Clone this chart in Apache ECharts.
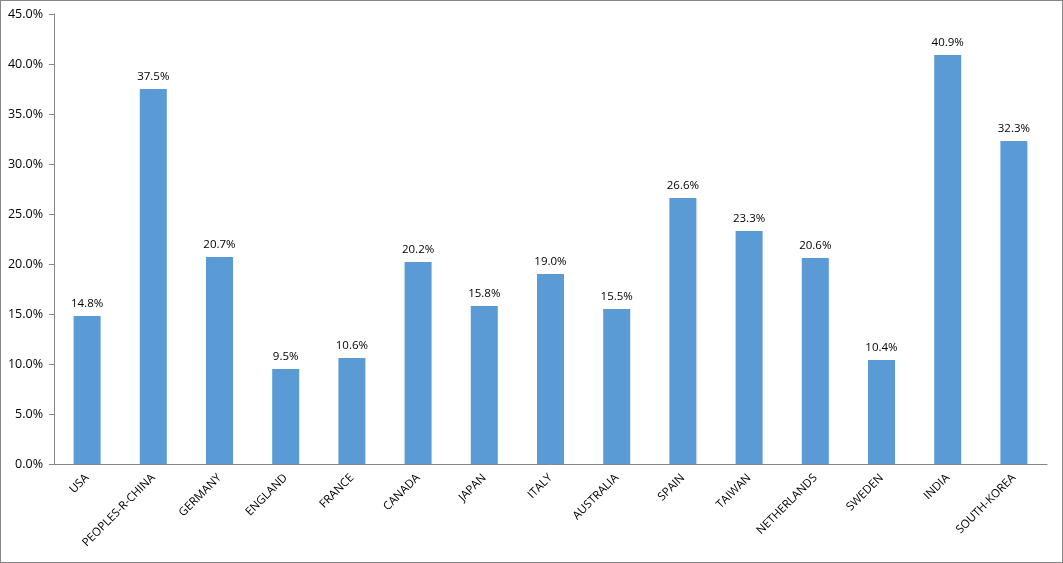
<!DOCTYPE html>
<html><head><meta charset="utf-8">
<script src="https://cdn.jsdelivr.net/npm/echarts@6/dist/echarts.min.js"></script>
<style>html,body{margin:0;padding:0;background:#fff}#c{width:1063px;height:563px;box-sizing:border-box;border:1px solid #868686}</style>
</head><body><div id="c"></div>
<script>
var categories = ["USA","PEOPLES-R-CHINA","GERMANY","ENGLAND","FRANCE","CANADA","JAPAN","ITALY","AUSTRALIA","SPAIN","TAIWAN","NETHERLANDS","SWEDEN","INDIA","SOUTH-KOREA"];
var values = [14.8,37.5,20.7,9.5,10.6,20.2,15.8,19.0,15.5,26.6,23.3,20.6,10.4,40.9,32.3];
var chart = echarts.init(document.getElementById('c'));
chart.setOption({
  animation:false,
  grid:{left:53,right:15,top:13,bottom:98},
  xAxis:{type:'category',data:categories,
    axisLine:{lineStyle:{color:'#868686'}},
    axisTick:{alignWithLabel:false,length:5,lineStyle:{color:'#868686'}},
    axisLabel:{rotate:45,color:'#000',fontSize:11.5,fontFamily:'Open Sans',margin:12,interval:0}},
  yAxis:{type:'value',min:0,max:45,interval:5,
    axisLine:{show:true,lineStyle:{color:'#868686'}},
    axisTick:{show:true,length:5,lineStyle:{color:'#868686'}},
    splitLine:{show:false},
    axisLabel:{color:'#000',fontSize:12.5,fontFamily:'Open Sans',margin:11,formatter:function(v){return v.toFixed(1)+'%';}}},
  series:[{type:'bar',data:values,barWidth:27,itemStyle:{color:'#5b9bd5'},
    label:{show:true,position:'top',distance:6,color:'#000',fontSize:11.5,fontFamily:'Open Sans',formatter:function(p){return p.value.toFixed(1)+'%';}}}]
});
</script></body></html>
